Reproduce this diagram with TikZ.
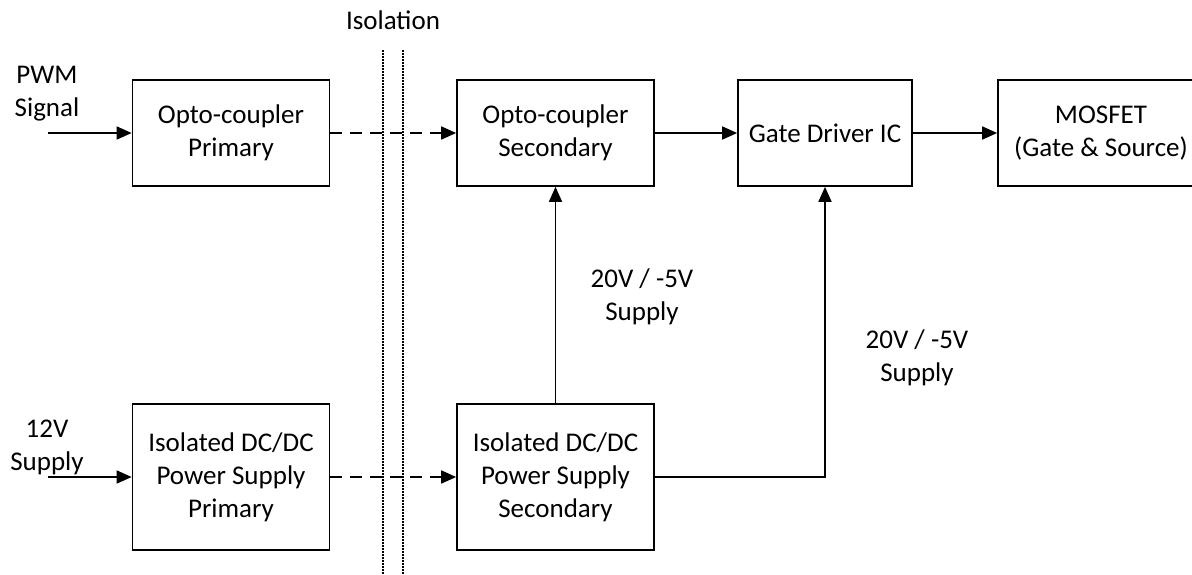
\documentclass[tikz,border=0pt]{standalone}
\usepackage{fontspec}
\setmainfont{Carlito}
\usetikzlibrary{arrows.meta, positioning}
\tikzset{
  blk/.style={rectangle, draw=black, line width=1.7pt, minimum width=197pt, minimum height=106pt,
    align=center, inner sep=2pt, font=\fontsize{27}{33}\selectfont},
  blk/tall/.style={blk, minimum height=146pt},
  lbl/.style={font=\fontsize{27}{33}\selectfont, align=center, inner sep=0pt},
  ar/.style={-{Triangle[length=15pt,width=13pt]}, draw=black, line width=1.7pt},
  ar/dash/.style={ar, dash pattern=on 12pt off 8pt},
  iso/.style={draw=black, line width=1.1pt, dash pattern=on 1.5pt off 1.5pt},
}

\begin{document}
\begin{tikzpicture}[x=1pt, y=-1pt]
\useasboundingbox (0,0) rectangle (1192,574);

%% ===== NODES =====
\node[blk] (OPRI) at (231,133) {Opto-coupler\\Primary};
\node[blk] (OSEC) at (555.5,133) {Opto-coupler\\Secondary};
\node[blk, minimum width=174pt] (GDRV) at (825,133) {Gate Driver IC};
\node[blk, minimum width=206pt] (MOSF) at (1101,133) {MOSFET\\(Gate \& Source)};

\node[blk/tall] (DPRI) at (231,477) {Isolated DC/DC\\Power Supply\\Primary};
\node[blk/tall] (DSEC) at (555.5,477) {Isolated DC/DC\\Power Supply\\Secondary};

% -- inputs --
\node[lbl] (PWM) at (47,93.5) {PWM\\Signal};
\node[lbl] (VIN) at (47,447.5) {12V\\Supply};
\coordinate (PWMIN) at (48,133);
\coordinate (VININ) at (48,477);

% -- supply labels --
\node[lbl] (SUP1) at (642,297) {20V / -5V\\Supply};
\node[lbl] (SUP2) at (917,357.5) {20V / -5V\\Supply};

% -- isolation barrier --
\node[lbl] (ISO) at (393,20) {Isolation};
\draw[iso] (383,50) -- (383,574);
\draw[iso] (403,50) -- (403,574);

%% ===== CONNECTORS =====
\draw[ar] (PWMIN) -- (OPRI.west);
\draw[ar] (VININ) -- (DPRI.west);
\draw[ar/dash] (OPRI.east) -- (OSEC.west);
\draw[ar/dash] (DPRI.east) -- (DSEC.west);
\draw[ar] (OSEC.east) -- (GDRV.west);
\draw[ar] (GDRV.east) -- (MOSF.west);
\draw[ar] (DSEC.north) -- (OSEC.south);
\draw[ar] (DSEC.east) -| (GDRV.south);
\end{tikzpicture}
\end{document}
